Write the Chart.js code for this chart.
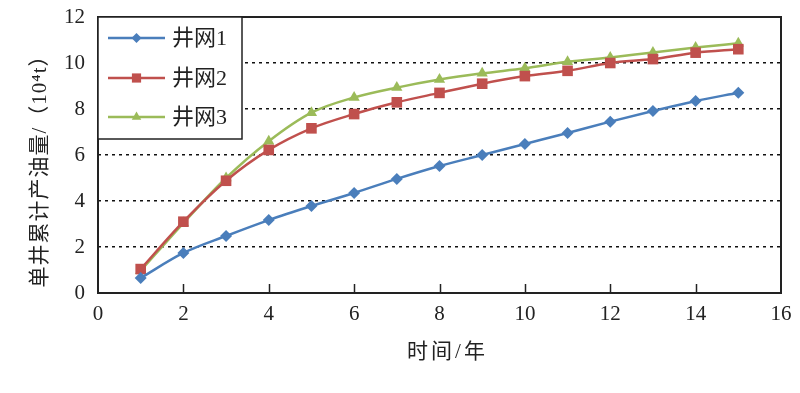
<!DOCTYPE html>
<html>
<head>
<meta charset="utf-8">
<script src="https://cdn.jsdelivr.net/npm/chart.js@4/dist/chart.umd.min.js"></script>
<style>
  html, body { margin: 0; padding: 0; background: #fff; }
  #wrap { width: 800px; height: 393px; position: relative; }
</style>
</head>
<body>
<div id="wrap"><canvas id="c" width="800" height="393"></canvas></div>
<script>
// ---- data ----
const years = [1, 2, 3, 4, 5, 6, 7, 8, 9, 10, 11, 12, 13, 14, 15];
const net1 = [0.65, 1.74, 2.48, 3.17, 3.78, 4.35, 4.96, 5.52, 6.00, 6.48, 6.96, 7.45, 7.91, 8.35, 8.71];
const net2 = [1.04, 3.10, 4.88, 6.22, 7.16, 7.78, 8.29, 8.70, 9.10, 9.43, 9.66, 10.00, 10.17, 10.45, 10.60];
const net3 = [0.97, 3.04, 5.00, 6.60, 7.84, 8.50, 8.93, 9.28, 9.55, 9.77, 10.05, 10.24, 10.46, 10.67, 10.86];
const seriesNames = ['井网1', '井网2', '井网3'];
const xTicks = [0, 2, 4, 6, 8, 10, 12, 14, 16];
const yTicks = [0, 2, 4, 6, 8, 10, 12];
const xTitle = '时间/年';
const yTitle = '单井累计产油量/（10⁴t）';

const serif = "'Liberation Serif', 'Noto Sans CJK SC', serif";
const colors = ['#4a7ebb', '#c0504d', '#9bbb59'];
const styles = [
  { pointStyle: 'rectRot', radius: 6 },
  { pointStyle: 'rect', radius: 7.5 },
  { pointStyle: 'triangle', radius: 6.5 }
];

const seriesData = [net1, net2, net3];
const datasets = seriesData.map((arr, i) => ({
  label: seriesNames[i],
  data: years.map((x, j) => ({ x: x, y: arr[j] })),
  borderColor: colors[i],
  backgroundColor: colors[i],
  borderWidth: 2.5,
  pointStyle: styles[i].pointStyle,
  pointRadius: styles[i].radius,
  pointBorderWidth: 0,
  pointBackgroundColor: colors[i],
  tension: 0.25,
  cubicInterpolationMode: 'monotone'
}));

const framePlugin = {
  id: 'frame',
  afterDatasetsDraw(chart) {
    const ctx = chart.ctx;
    const a = chart.chartArea;
    const xs = chart.scales.x;
    ctx.save();
    // inward tick marks on bottom axis
    ctx.strokeStyle = '#222';
    ctx.lineWidth = 1.5;
    xTicks.forEach(v => {
      if (v === xTicks[0] || v === xTicks[xTicks.length - 1]) return;
      const px = Math.round(xs.getPixelForValue(v)) + 0.5;
      ctx.beginPath();
      ctx.moveTo(px, a.bottom);
      ctx.lineTo(px, a.bottom - 9);
      ctx.stroke();
    });
    // frame
    ctx.lineWidth = 2;
    ctx.strokeStyle = '#222';
    ctx.strokeRect(a.left, a.top, a.right - a.left, a.bottom - a.top);

    // legend box
    const bx = a.left, by = a.top, bw = 144, bh = 122;
    ctx.fillStyle = '#fff';
    ctx.fillRect(bx, by, bw, bh);
    ctx.lineWidth = 1.5;
    ctx.strokeRect(bx, by, bw, bh);
    const rows = [21, 61, 100];
    chart.data.datasets.forEach((ds, i) => {
      const y = by + rows[i];
      ctx.strokeStyle = ds.borderColor;
      ctx.lineWidth = 2.5;
      ctx.beginPath();
      ctx.moveTo(bx + 10, y);
      ctx.lineTo(bx + 67, y);
      ctx.stroke();
      ctx.fillStyle = ds.borderColor;
      Chart.helpers.drawPoint(ctx, { pointStyle: ds.pointStyle, radius: ds.pointRadius - 1, rotation: 0, borderWidth: 0 }, bx + 38.5, y);
      ctx.fillStyle = '#222';
      ctx.font = "22px " + serif;
      ctx.textBaseline = 'middle';
      ctx.textAlign = 'left';
      ctx.fillText(ds.label, bx + 74, y + 1);
    });

    // axis titles
    ctx.fillStyle = '#222';
    ctx.font = "21px " + serif;
    ctx.textBaseline = 'middle';
    ctx.textAlign = 'center';
    ctx.letterSpacing = '1px';
    ctx.save();
    ctx.translate(40, (a.top + a.bottom) / 2 + 11);
    ctx.rotate(-Math.PI / 2);
    ctx.fillText(yTitle, 0, 0);
    ctx.restore();
    ctx.letterSpacing = '3px';
    ctx.fillText(xTitle, (a.left + a.right) / 2 + 8, 352);
    ctx.letterSpacing = '0px';
    ctx.restore();
  }
};

const bgPlugin = {
  id: 'bg',
  beforeDraw(chart) {
    const ctx = chart.ctx;
    ctx.save();
    ctx.fillStyle = '#fff';
    ctx.fillRect(0, 0, chart.width, chart.height);
    ctx.restore();
  }
};

new Chart(document.getElementById('c'), {
  type: 'line',
  data: { datasets: datasets },
  plugins: [bgPlugin, framePlugin],
  options: {
    responsive: false,
    animation: false,
    devicePixelRatio: 1,
    layout: { padding: { top: 17, right: 19, left: 0, bottom: 0 } },
    plugins: { legend: { display: false }, tooltip: { enabled: false } },
    scales: {
      x: {
        type: 'linear',
        min: xTicks[0],
        max: xTicks[xTicks.length - 1],
        afterBuildTicks: s => { s.ticks = xTicks.map(v => ({ value: v })); },
        afterFit: s => { s.height = 100; s.paddingLeft = 0; s.paddingRight = 0; },
        grid: { display: false, drawTicks: false },
        border: { display: false },
        ticks: { color: '#222', padding: 9, font: { family: serif, size: 21 }, maxRotation: 0 },
        title: { display: false }
      },
      y: {
        type: 'linear',
        min: yTicks[0],
        max: yTicks[yTicks.length - 1],
        afterBuildTicks: s => { s.ticks = yTicks.map(v => ({ value: v })); },
        afterFit: s => { s.width = 98; s.paddingTop = 0; s.paddingBottom = 0; },
        border: { display: false, dash: [3, 4] },
        grid: {
          drawTicks: false,
          color: c => (c.tick && c.tick.value > yTicks[0] && c.tick.value < yTicks[yTicks.length - 1]) ? '#111' : 'rgba(0,0,0,0)',
          lineWidth: 1.5
        },
        ticks: { color: '#222', padding: 13, font: { family: serif, size: 21 } },
        title: { display: false }
      }
    }
  }
});
</script>
</body>
</html>
